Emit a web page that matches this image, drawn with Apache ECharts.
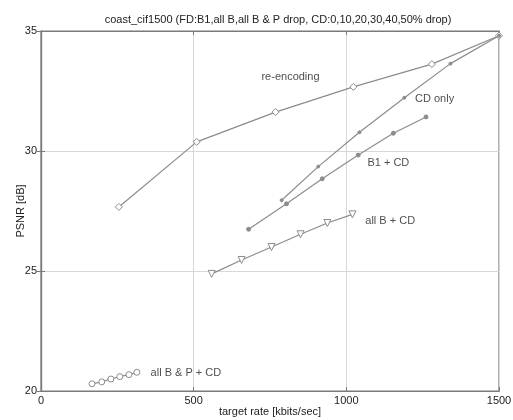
<!DOCTYPE html>
<html><head><meta charset="utf-8">
<script src="https://cdn.jsdelivr.net/npm/echarts@6/dist/echarts.min.js"></script>
<style>html,body{margin:0;padding:0;background:#fff}#c{width:513px;height:420px}</style>
</head><body><div id="c"></div>
<script>
const titleText = 'coast_cif1500 (FD:B1,all B,all B & P drop, CD:0,10,20,30,40,50% drop)';
const xTicks = [0, 500, 1000, 1500];
const yTicks = [20, 25, 30, 35];

const reEncoding = [[255, 27.67], [510, 30.38], [768, 31.62], [1023, 32.67], [1280, 33.62], [1500, 34.8]];
const cdOnly = [[788, 27.95], [908, 29.35], [1043, 30.78], [1190, 32.22], [1341, 33.64], [1500, 34.8]];
const b1CD = [[680, 26.74], [804, 27.8], [921, 28.84], [1039, 29.83], [1154, 30.74], [1261, 31.42]];
const allBCD = [[559, 24.88], [657, 25.46], [755, 26.0], [850, 26.53], [938, 27.0], [1020, 27.36]];
const allBPCD = [[167, 20.3], [199, 20.38], [229, 20.5], [258, 20.6], [288, 20.68], [314, 20.78]];

const annotations = [
  [722, 33.08, 're-encoding'],
  [1225, 32.17, 'CD only'],
  [1069, 29.5, 'B1 + CD'],
  [1062, 27.08, 'all B + CD'],
  [359, 20.75, 'all B & P + CD']
];

const lineColor = '#8c8c8c';
const font = 'Liberation Sans, Arial, sans-serif';

function lineSeries(name, data, symbol, size, fill) {
  return {
    name, type: 'line', data, symbol, symbolSize: size,
    lineStyle: { color: lineColor, width: 1.2 },
    itemStyle: { color: fill ? lineColor : '#fff', borderColor: lineColor, borderWidth: 1 },
    animation: false, z: 3
  };
}

const chart = echarts.init(document.getElementById('c'), null, { renderer: 'canvas' });
const axisLine = { show: true, lineStyle: { color: '#7a7a7a', width: 1.2 } };
chart.setOption({
  animation: false,
  title: {
    text: titleText, left: 273, top: 9, textAlign: 'center',
    textStyle: { fontFamily: font, fontSize: 11, fontWeight: 'normal', color: '#222' }
  },
  grid: { left: 41, right: 14, top: 31, bottom: 29, show: true, borderColor: '#7a7a7a', borderWidth: 1.2,
    containLabel: false, outerBoundsMode: 'none' },
  xAxis: [{
    type: 'value', min: 0, max: 1500, interval: 500, position: 'bottom',
    name: 'target rate [kbits/sec]', nameLocation: 'middle', nameGap: 15, nameMoveOverlap: false,
    nameTextStyle: { fontFamily: font, fontSize: 11, color: '#222' },
    axisLine, axisTick: { inside: true, length: 4, lineStyle: { color: '#7a7a7a' } },
    axisLabel: { margin: 4, fontFamily: font, fontSize: 11, color: '#222', formatter: v => xTicks.includes(v) ? String(v) : '' },
    splitLine: { show: true, lineStyle: { color: '#d8d8d8', width: 1 } }
  }, {
    type: 'value', min: 0, max: 1500, interval: 500, position: 'top',
    axisLine, axisTick: { inside: true, length: 4, lineStyle: { color: '#7a7a7a' } },
    axisLabel: { show: false }, splitLine: { show: false }
  }],
  yAxis: [{
    type: 'value', min: 20, max: 35, interval: 5, position: 'left',
    name: 'PSNR [dB]', nameLocation: 'middle', nameGap: 15, nameRotate: 90, nameMoveOverlap: false,
    nameTextStyle: { fontFamily: font, fontSize: 11, color: '#222' },
    axisLine, axisTick: { inside: true, length: 4, lineStyle: { color: '#7a7a7a' } },
    axisLabel: { margin: 4, fontFamily: font, fontSize: 11, color: '#222', formatter: v => yTicks.includes(v) ? String(v) : '' },
    splitLine: { show: true, lineStyle: { color: '#d8d8d8', width: 1 } }
  }, {
    type: 'value', min: 20, max: 35, interval: 5, position: 'right',
    axisLine, axisTick: { inside: true, length: 4, lineStyle: { color: '#7a7a7a' } },
    axisLabel: { show: false }, splitLine: { show: false }
  }],
  series: [
    lineSeries('re-encoding', reEncoding, 'diamond', 7, false),
    lineSeries('CD only', cdOnly, 'circle', 3, true),
    lineSeries('B1 + CD', b1CD, 'circle', 4, true),
    Object.assign(lineSeries('all B + CD', allBCD, 'triangle', 7, false), { symbolRotate: 180 }),
    lineSeries('all B & P + CD', allBPCD, 'circle', 6, false),
    {
      type: 'scatter', symbolSize: 0, animation: false, silent: true,
      data: annotations.map(a => ({ value: [a[0], a[1]], name: a[2] })),
      label: { show: true, position: 'right', distance: 0, formatter: p => p.name,
        fontFamily: font, fontSize: 11, color: '#222' }
    }
  ]
});
</script></body></html>
